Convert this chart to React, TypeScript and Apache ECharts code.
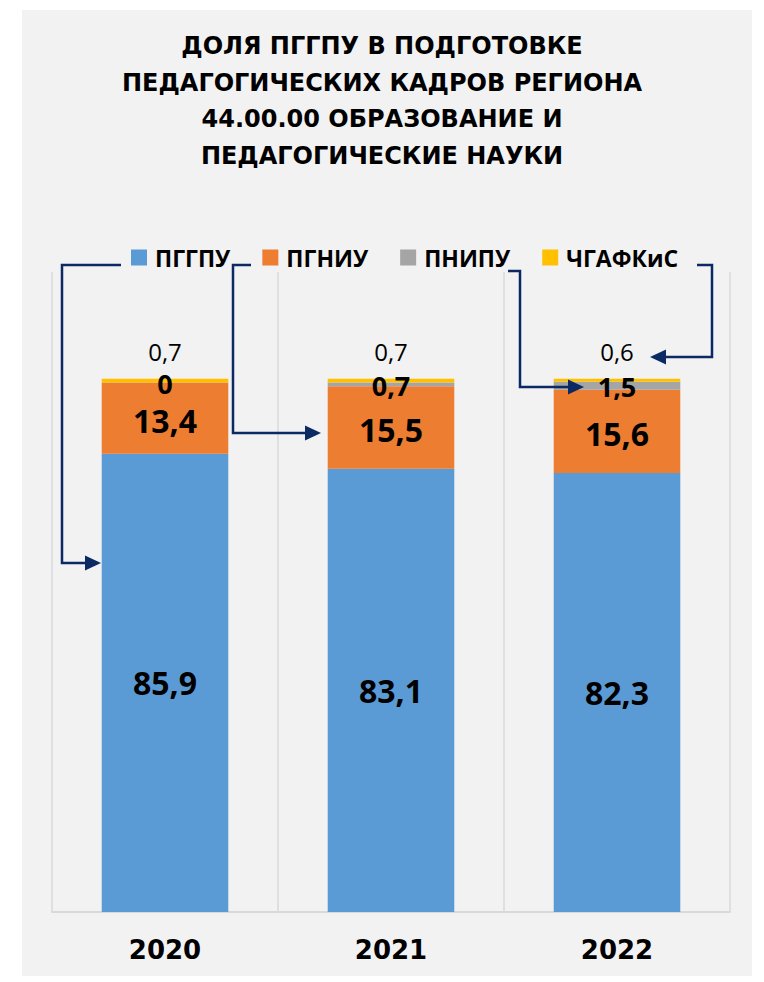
import React, { useEffect, useRef } from "react";
import * as echarts from "echarts";

const years = ["2020", "2021", "2022"];
const seriesNames = ["ПГГПУ", "ПГНИУ", "ПНИПУ", "ЧГАФКиС"];
const pggpu = [85.9, 83.1, 82.3];
const pgniu = [13.4, 15.5, 15.6];
const pnipu = [0, 0.7, 1.5];
const chgafkis = [0.7, 0.7, 0.6];
const colors = ["#5b9bd5", "#ed7d31", "#a5a5a5", "#ffc000"];
const titleText =
  "ДОЛЯ ПГГПУ В ПОДГОТОВКЕ\nПЕДАГОГИЧЕСКИХ КАДРОВ РЕГИОНА\n44.00.00 ОБРАЗОВАНИЕ И\nПЕДАГОГИЧЕСКИЕ НАУКИ";

const fmt = (p: any) => String(p.value).replace(".", ",");
const NAVY = "#0b2a63";

function arrowHead(tipX: number, tipY: number, dir: 1 | -1) {
  return {
    type: "polygon",
    z: 100,
    shape: {
      points: [
        [tipX, tipY],
        [tipX - dir * 16, tipY - 7.5],
        [tipX - dir * 16, tipY + 7.5],
      ],
    },
    style: { fill: NAVY },
  };
}
function conn(points: number[][]) {
  return {
    type: "polyline",
    z: 100,
    shape: { points },
    style: { stroke: NAVY, lineWidth: 2.5, fill: null },
  };
}

export default function App() {
  const ref = useRef<HTMLDivElement>(null);
  useEffect(() => {
    if (!ref.current) return;
    const chart = echarts.init(ref.current, undefined, { renderer: "svg" });
    const dataSets = [pggpu, pgniu, pnipu, chgafkis];
    const labelCfg = [
      { show: true, position: "inside", fontSize: 32, fontWeight: "bold", color: "#000", formatter: fmt },
      { show: true, position: "inside", offset: [0, 2], fontSize: 32, fontWeight: "bold", color: "#000", formatter: fmt },
      { show: true, position: "inside", offset: [0, 1], fontSize: 27, fontWeight: "bold", color: "#000", formatter: fmt },
      { show: true, position: "top", distance: 15, fontSize: 24, fontWeight: "normal", color: "#000", formatter: fmt },
    ];
    chart.setOption({
      animation: false,
      backgroundColor: "#ffffff",
      textStyle: { fontFamily: "Open Sans" },
      title: {
        text: titleText,
        left: "center",
        top: 28,
        padding: 0,
        textStyle: {
          fontFamily: "DejaVu Sans",
          fontWeight: "bold",
          fontSize: 24,
          lineHeight: 36.5,
          color: "#000",
        },
      },
      legend: {
        left: 131,
        top: 246,
        padding: 0,
        itemWidth: 16,
        itemHeight: 16,
        itemGap: 32,
        icon: "rect",
        textStyle: { fontFamily: "Open Sans", fontWeight: "bold", fontSize: 23, color: "#000", padding: [0, 0, 0, 3] },
        data: seriesNames,
      },
      grid: { left: 52, right: 34, top: 272, bottom: 70, containLabel: false },
      xAxis: {
        type: "category",
        data: years,
        axisTick: { show: false },
        axisLine: { lineStyle: { color: "#d9d9d9", width: 2 } },
        splitLine: { show: true, lineStyle: { color: "#d9d9d9", width: 1.5 } },
        axisLabel: { fontFamily: "DejaVu Sans", fontWeight: "bold", fontSize: 26, color: "#000", margin: 25 },
      },
      yAxis: { type: "value", min: 0, max: 120, show: false, splitLine: { show: false } },
      series: seriesNames.map((name, i) => ({
        name,
        type: "bar",
        stack: "total",
        barCategoryGap: "44%",
        data: dataSets[i],
        itemStyle: { color: colors[i] },
        label: labelCfg[i],
        z: 2,
      })),
      graphic: [
        { type: "rect", z: -10, shape: { x: 22, y: 10, width: 730, height: 966 }, style: { fill: "#f2f2f2" } },
        conn([[121, 265], [62, 265], [62, 563], [90, 563]]),
        arrowHead(101, 563, 1),
        conn([[251, 265], [233, 265], [233, 433], [310, 433]]),
        arrowHead(321, 433, 1),
        conn([[508, 271], [520, 271], [520, 387], [572, 387]]),
        arrowHead(584, 387, 1),
        conn([[697, 265], [712, 265], [712, 357], [662, 357]]),
        arrowHead(650, 357, -1),
      ],
    });
    return () => chart.dispose();
  }, []);
  return (
    <div
      ref={ref}
      style={{ position: "fixed", left: 0, top: 0, width: 764, height: 982 }}
    />
  );
}
